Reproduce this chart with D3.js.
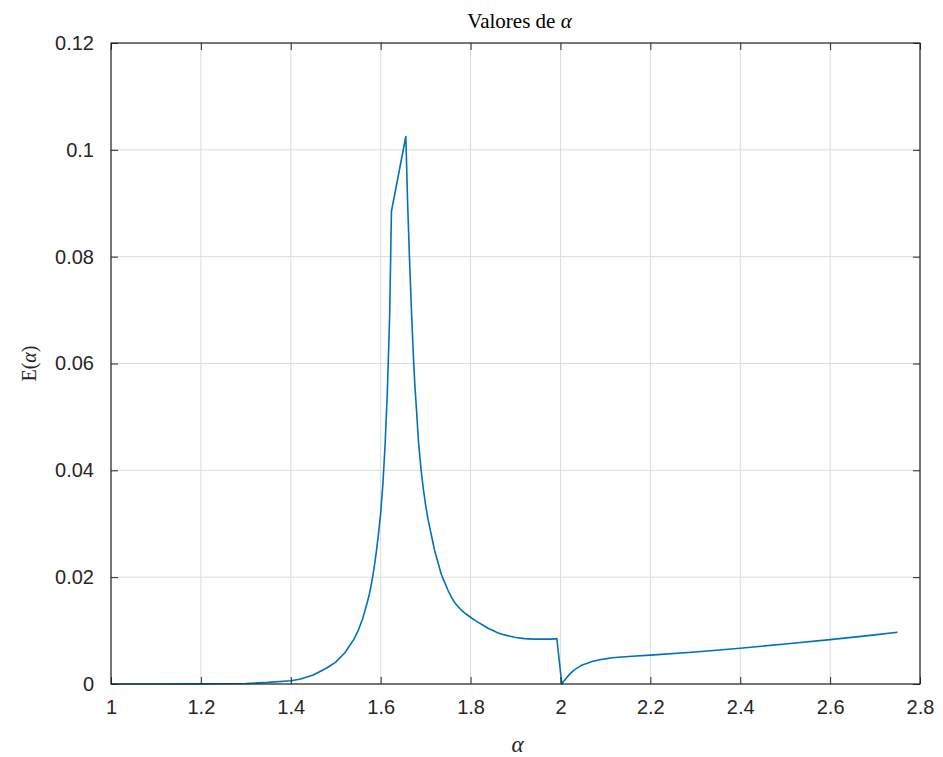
<!DOCTYPE html>
<html>
<head>
<meta charset="utf-8">
<script src="https://cdn.jsdelivr.net/npm/d3@7"></script>
<style>
  body { margin: 0; background: #fff; }
  text { font-family: "Liberation Sans", Arial, sans-serif; }
</style>
</head>
<body>
<svg id="chart" width="943" height="757"></svg>
<script>
// Error E(alpha) sampled over alpha in [1, 2.75]
const alpha = [
  1.00, 1.10, 1.20, 1.25, 1.30, 1.35, 1.40, 1.42, 1.45, 1.48, 1.50, 1.52, 1.54, 1.55,
  1.56, 1.57, 1.575, 1.58, 1.585, 1.59, 1.595, 1.60, 1.605, 1.61, 1.615, 1.62, 1.624,
  1.656, 1.660, 1.664, 1.668, 1.673, 1.676, 1.68, 1.684, 1.69, 1.695, 1.70, 1.705, 1.71,
  1.715, 1.72, 1.725, 1.735, 1.74, 1.745, 1.75, 1.757, 1.765, 1.77, 1.78, 1.79, 1.80,
  1.81, 1.82, 1.83, 1.84, 1.85, 1.86, 1.87, 1.88, 1.90, 1.92, 1.94, 1.96, 1.98, 1.992,
  2.003, 2.008, 2.012, 2.02, 2.03, 2.045, 2.05, 2.06, 2.07, 2.08, 2.09, 2.10, 2.115,
  2.13, 2.16, 2.20, 2.30, 2.40, 2.50, 2.60, 2.70, 2.75
];
const E = [
  0.0000, 0.0000, 0.00002, 0.00005, 0.0001, 0.0003, 0.0006, 0.0009, 0.0017, 0.0030, 0.0041, 0.0058, 0.0083, 0.0100,
  0.0122, 0.0152, 0.0169, 0.0190, 0.0215, 0.0245, 0.0280, 0.0320, 0.0375, 0.0450, 0.0550, 0.0690, 0.0885,
  0.1025, 0.0900, 0.0800, 0.0710, 0.0610, 0.0560, 0.0510, 0.0455, 0.0400, 0.0365, 0.0335, 0.0310, 0.0290,
  0.0270, 0.0250, 0.0235, 0.0205, 0.0195, 0.0185, 0.0175, 0.0163, 0.0152, 0.0147, 0.0138, 0.0131, 0.0125,
  0.0119, 0.0114, 0.0109, 0.0104, 0.0100, 0.0096, 0.0093, 0.0091, 0.0087, 0.0085, 0.0084, 0.0084, 0.0084, 0.0085,
  0.0000, 0.0006, 0.0010, 0.0018, 0.0026, 0.0034, 0.0036, 0.0039, 0.0042, 0.0044, 0.0046, 0.0047, 0.0049,
  0.0050, 0.0052, 0.0054, 0.0060, 0.0067, 0.0075, 0.0083, 0.0092, 0.0097
];
const xTicks = [1, 1.2, 1.4, 1.6, 1.8, 2, 2.2, 2.4, 2.6, 2.8];
const yTicks = [0, 0.02, 0.04, 0.06, 0.08, 0.1, 0.12];

const svg = d3.select("#chart");
const m = { left: 111, right: 920, top: 43, bottom: 684 };
const x = d3.scaleLinear().domain([1, 2.8]).range([m.left, m.right]);
const y = d3.scaleLinear().domain([0, 0.12]).range([m.bottom, m.top]);
const axisColor = "#262626";
const tickLen = 7;

// grid
const grid = svg.append("g");
grid.selectAll("line.gx").data(xTicks).join("line")
  .attr("x1", d => x(d)).attr("x2", d => x(d))
  .attr("y1", m.top).attr("y2", m.bottom)
  .attr("stroke", "#dcdcdc").attr("stroke-width", 1);
grid.selectAll("line.gy").data(yTicks).join("line")
  .attr("y1", d => y(d)).attr("y2", d => y(d))
  .attr("x1", m.left).attr("x2", m.right)
  .attr("stroke", "#dcdcdc").attr("stroke-width", 1);

// curve
const pts = alpha.map((a, i) => [a, E[i]]);
svg.append("path")
  .datum(pts)
  .attr("fill", "none")
  .attr("stroke", "#0072BD")
  .attr("stroke-width", 1.6)
  .attr("stroke-linejoin", "round")
  .attr("d", d3.line().x(d => x(d[0])).y(d => y(d[1])));

// axes with inward ticks on all four sides
function styleAxis(g) {
  g.select(".domain").remove();
  g.selectAll(".tick line").attr("stroke", axisColor);
  g.selectAll(".tick text").attr("fill", axisColor).style("font-size", "20px")
    .style("font-family", "'Liberation Sans', Arial, sans-serif");
}
svg.append("g").attr("transform", `translate(0,${m.bottom})`)
  .call(d3.axisBottom(x).tickValues(xTicks).tickFormat(d3.format("")).tickSizeInner(-tickLen).tickSizeOuter(0).tickPadding(16))
  .call(styleAxis);
svg.append("g").attr("transform", `translate(0,${m.top})`)
  .call(d3.axisTop(x).tickValues(xTicks).tickSizeInner(-tickLen).tickSizeOuter(0).tickFormat(""))
  .call(styleAxis);
svg.append("g").attr("transform", `translate(${m.left},0)`)
  .call(d3.axisLeft(y).tickValues(yTicks).tickFormat(d3.format("")).tickSizeInner(-tickLen).tickSizeOuter(0).tickPadding(17))
  .call(styleAxis);
svg.append("g").attr("transform", `translate(${m.right},0)`)
  .call(d3.axisRight(y).tickValues(yTicks).tickSizeInner(-tickLen).tickSizeOuter(0).tickFormat(""))
  .call(styleAxis);

// box
svg.append("rect")
  .attr("x", m.left).attr("y", m.top)
  .attr("width", m.right - m.left).attr("height", m.bottom - m.top)
  .attr("fill", "none").attr("stroke", axisColor).attr("stroke-width", 1.2);

// title and labels
const title = svg.append("text")
  .attr("x", (m.left + m.right) / 2 + 4).attr("y", 28)
  .attr("text-anchor", "middle").attr("fill", "#000")
  .style("font-family", "'Liberation Serif', serif").style("font-size", "21px");
title.append("tspan").text("Valores de ");
title.append("tspan").style("font-style", "italic").text("α");

svg.append("text")
  .attr("x", (m.left + m.right) / 2 + 2).attr("y", 752)
  .attr("text-anchor", "middle").attr("fill", "#262626")
  .style("font-family", "'Liberation Serif', serif").style("font-style", "italic").style("font-size", "23px")
  .text("α");

const yl = svg.append("text")
  .attr("transform", `translate(36,${(m.top + m.bottom) / 2}) rotate(-90)`)
  .attr("text-anchor", "middle").attr("fill", "#262626")
  .style("font-family", "'Liberation Serif', serif").style("font-size", "20px");
yl.append("tspan").text("E(");
yl.append("tspan").style("font-style", "italic").text("α");
yl.append("tspan").text(")");
</script>
</body>
</html>
